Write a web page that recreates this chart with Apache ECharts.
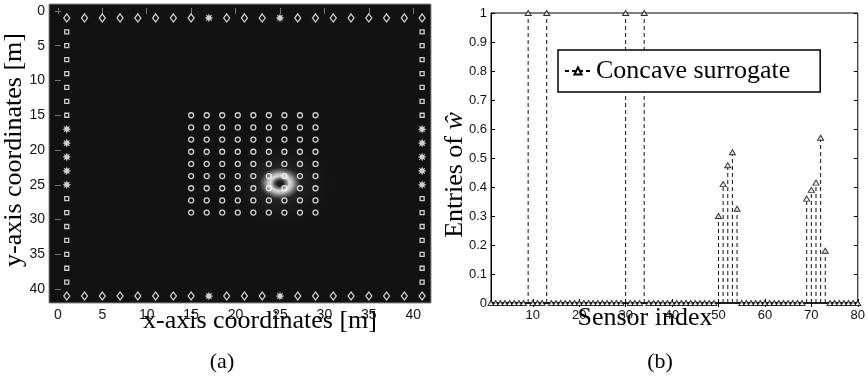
<!DOCTYPE html>
<html>
<head>
<meta charset="utf-8">
<script src="https://cdn.jsdelivr.net/npm/echarts@6/dist/echarts.min.js"></script>
<style>
html, body { margin: 0; padding: 0; background: #fff; }
#main { width: 868px; height: 377px; }
</style>
</head>
<body>
<div id="main"></div>
<script>
// ---- panel (a): sensor layout, metres ----
var edgeRowY = [1, 41];              // top / bottom anchor rows
var edgeColX = [1, 41];              // left / right anchor columns
var diamondX = [1, 3, 5, 7, 9, 11, 13, 15, 19, 21, 23, 27, 29, 31, 33, 35, 37, 39, 41];
var rowStarX = [17, 25];
var squareY = [3, 5, 7, 9, 11, 13, 15, 27, 29, 31, 33, 35, 37, 39];
var colStarY = [17, 19, 21, 23, 25];
var gridPos = [15, 16.75, 18.5, 20.25, 22, 23.75, 25.5, 27.25, 29];
var sourcePos = [[25, 24.8]];
var ticksA = [0, 5, 10, 15, 20, 25, 30, 35, 40];

// ---- panel (b): entries of w per sensor (index 1..80) ----
var weights = [
  0, 0, 0, 0, 0, 0, 0, 0, 1, 0,
  0, 0, 1, 0, 0, 0, 0, 0, 0, 0,
  0, 0, 0, 0, 0, 0, 0, 0, 0, 1,
  0, 0, 0, 1, 0, 0, 0, 0, 0, 0,
  0, 0, 0, 0, 0, 0, 0, 0, 0, 0.30,
  0.41, 0.475, 0.52, 0.325, 0, 0, 0, 0, 0, 0,
  0, 0, 0, 0, 0, 0, 0, 0, 0.36, 0.39,
  0.415, 0.57, 0.18, 0, 0, 0, 0, 0, 0, 0
];
var ticksB = [10, 20, 30, 40, 50, 60, 70, 80];

function combine(xs, ys) {
  var out = [];
  xs.forEach(function (x) { ys.forEach(function (y) { out.push([x, y]); }); });
  return out;
}
var stemData = weights.map(function (w, i) { return [i + 1, w]; });

// 8-point splat used for the '*' markers
function starPath() {
  var p = [];
  for (var k = 0; k < 16; k++) {
    var a = k * Math.PI / 8, r = k % 2 ? 0.5 : 1;
    p.push((50 + 50 * r * Math.cos(a)).toFixed(1) + ',' + (50 + 50 * r * Math.sin(a)).toFixed(1));
  }
  return 'path://M' + p.join('L') + 'Z';
}
var STAR = starPath();

var hollowWhite = { color: 'rgba(0,0,0,0)', borderColor: '#fff', borderWidth: 1.3 };
var tickFont = { fontFamily: 'Liberation Sans', fontSize: 14, color: '#111' };
var serif = 'Liberation Serif';

var myChart = echarts.init(document.getElementById('main'));
myChart.setOption({
  animation: false,
  grid: [
    { left: 49, top: 4, width: 382, height: 299, show: true, backgroundColor: '#121212', borderColor: '#8a8a8a', borderWidth: 1 },
    { left: 491, top: 13, width: 370, height: 290, show: true, borderColor: '#000', borderWidth: 1 }
  ],
  xAxis: [
    { gridIndex: 0, type: 'value', min: -1, max: 42, position: 'bottom',
      axisLine: { show: false }, splitLine: { show: false },
      axisTick: { inside: true, length: 3, customValues: ticksA, lineStyle: { color: '#777' } },
      axisLabel: Object.assign({ customValues: ticksA, margin: 5 }, tickFont) },
    { gridIndex: 0, type: 'value', min: -1, max: 42, position: 'top',
      axisLine: { show: false }, splitLine: { show: false }, axisLabel: { show: false },
      axisTick: { inside: true, length: 3, customValues: ticksA, lineStyle: { color: '#777' } } },
    { gridIndex: 1, type: 'value', min: 1, max: 80, position: 'bottom',
      axisLine: { lineStyle: { color: '#000', width: 1.5 } }, splitLine: { show: false },
      axisTick: { inside: true, length: 4, customValues: ticksB, lineStyle: { color: '#000' } },
      axisLabel: Object.assign({ customValues: ticksB, margin: 6 }, tickFont, { fontSize: 13 }) },
    { gridIndex: 1, type: 'value', min: 1, max: 80, position: 'top',
      axisLine: { show: false }, splitLine: { show: false }, axisLabel: { show: false },
      axisTick: { inside: true, length: 4, customValues: ticksB, lineStyle: { color: '#000' } } }
  ],
  yAxis: [
    { gridIndex: 0, type: 'value', min: -1, max: 42, inverse: true, position: 'left',
      axisLine: { show: false }, splitLine: { show: false },
      axisTick: { inside: true, length: 3, customValues: ticksA, lineStyle: { color: '#777' } },
      axisLabel: Object.assign({ customValues: ticksA, margin: 4 }, tickFont) },
    { gridIndex: 0, type: 'value', min: -1, max: 42, inverse: true, position: 'right',
      axisLine: { show: false }, splitLine: { show: false }, axisLabel: { show: false },
      axisTick: { inside: true, length: 3, customValues: ticksA, lineStyle: { color: '#777' } } },
    { gridIndex: 1, type: 'value', min: 0, max: 1, interval: 0.1, position: 'left',
      axisLine: { lineStyle: { color: '#000' } }, splitLine: { show: false },
      axisTick: { inside: true, length: 4, lineStyle: { color: '#000' } },
      axisLabel: Object.assign({ margin: 4 }, tickFont, { fontSize: 13 }) },
    { gridIndex: 1, type: 'value', min: 0, max: 1, interval: 0.1, position: 'right',
      axisLine: { show: false }, splitLine: { show: false }, axisLabel: { show: false },
      axisTick: { inside: true, length: 4, lineStyle: { color: '#000' } } }
  ],
  legend: {
    data: ['Concave surrogate'],
    left: 558, top: 50,
    padding: [8, 30, 8, 6],
    itemWidth: 26, itemHeight: 9, itemGap: 5,
    backgroundColor: '#fff', borderColor: '#000', borderWidth: 1.5,
    textStyle: { fontFamily: serif, fontSize: 26, color: '#000' }
  },
  graphic: [
    { type: 'text', x: 260, y: 321, style: { text: 'x-axis coordinates [m]', font: '26px "Liberation Serif"', fill: '#000', textAlign: 'center', textVerticalAlign: 'middle' } },
    { type: 'text', x: 14, y: 150, rotation: Math.PI / 2, style: { text: 'y-axis coordinates [m]', font: '26px "Liberation Serif"', fill: '#000', textAlign: 'center', textVerticalAlign: 'middle' } },
    { type: 'text', x: 645, y: 318, style: { text: 'Sensor index', font: '26px "Liberation Serif"', fill: '#000', textAlign: 'center', textVerticalAlign: 'middle' } },
    { type: 'text', x: 455, y: 175, rotation: Math.PI / 2, style: {
        text: 'Entries of {w|ŵ}', font: '26px "Liberation Serif"', fill: '#000', textAlign: 'center', textVerticalAlign: 'middle',
        rich: { w: { fontFamily: serif, fontSize: 26, fontStyle: 'italic' } } } },
    { type: 'text', x: 222, y: 362, style: { text: '(a)', font: '22px "Liberation Serif"', fill: '#000', textAlign: 'center', textVerticalAlign: 'middle' } },
    { type: 'text', x: 660, y: 362, style: { text: '(b)', font: '22px "Liberation Serif"', fill: '#000', textAlign: 'center', textVerticalAlign: 'middle' } }
  ],
  series: [
    // bright source blob in the field image
    { type: 'custom', xAxisIndex: 0, yAxisIndex: 0, data: sourcePos, silent: true, z: 1,
      renderItem: function (params, api) {
        var c = api.coord([api.value(0), api.value(1)]);
        var big = api.size([6.5, 6.5]), small = api.size([2.5, 2.5]);
        return { type: 'group', children: [
          { type: 'circle', x: c[0], y: c[1], scaleY: big[1] / big[0], shape: { cx: 0, cy: 0, r: big[0] },
            style: { fill: new echarts.graphic.RadialGradient(0.5, 0.5, 0.5, [
              { offset: 0, color: 'rgba(80,80,80,0.85)' },
              { offset: 0.4, color: 'rgba(45,45,45,0.55)' },
              { offset: 1, color: 'rgba(18,18,18,0)' }]) } },
          { type: 'circle', x: c[0], y: c[1], scaleY: small[1] / small[0], shape: { cx: 0, cy: 0, r: small[0] },
            style: { fill: new echarts.graphic.RadialGradient(0.5, 0.5, 0.5, [
              { offset: 0, color: '#151515' },
              { offset: 0.15, color: '#222' },
              { offset: 0.3, color: '#808080' },
              { offset: 0.42, color: '#dcdcdc' },
              { offset: 0.56, color: '#b8b8b8' },
              { offset: 0.72, color: '#686868' },
              { offset: 0.87, color: '#353535' },
              { offset: 1, color: 'rgba(18,18,18,0)' }]) } }
        ] };
      } },
    { type: 'scatter', xAxisIndex: 0, yAxisIndex: 0, data: combine(diamondX, edgeRowY),
      symbol: 'diamond', symbolSize: [6, 8], itemStyle: hollowWhite, silent: true, z: 3 },
    { type: 'scatter', xAxisIndex: 0, yAxisIndex: 0, data: combine(rowStarX, edgeRowY),
      symbol: STAR, symbolSize: 9, itemStyle: { color: '#fff' }, silent: true, z: 3 },
    { type: 'scatter', xAxisIndex: 0, yAxisIndex: 0, data: combine(edgeColX, squareY),
      symbol: 'rect', symbolSize: 4, itemStyle: hollowWhite, silent: true, z: 3 },
    { type: 'scatter', xAxisIndex: 0, yAxisIndex: 0, data: combine(edgeColX, colStarY),
      symbol: STAR, symbolSize: 9, itemStyle: { color: '#fff' }, silent: true, z: 3 },
    { type: 'scatter', xAxisIndex: 0, yAxisIndex: 0, data: combine(gridPos, gridPos),
      symbol: 'circle', symbolSize: 5, itemStyle: hollowWhite, silent: true, z: 3 },

    // panel (b): dashed stems
    { type: 'custom', xAxisIndex: 2, yAxisIndex: 2, data: stemData, silent: true, z: 2,
      renderItem: function (params, api) {
        var p0 = api.coord([api.value(0), 0]);
        var p1 = api.coord([api.value(0), api.value(1)]);
        return { type: 'line', shape: { x1: p0[0], y1: p0[1], x2: p1[0], y2: p1[1] },
          style: { stroke: '#111', lineWidth: 1, lineDash: [4, 3] } };
      } },
    { type: 'scatter', xAxisIndex: 2, yAxisIndex: 2, data: stemData,
      symbol: 'triangle', symbolSize: [6, 5], silent: true, z: 4,
      itemStyle: { color: '#fff', borderColor: '#000', borderWidth: 1 } },
    // legend entry only
    { name: 'Concave surrogate', type: 'line', xAxisIndex: 2, yAxisIndex: 2, data: [],
      symbol: 'triangle', symbolSize: [7, 6],
      lineStyle: { color: '#000', width: 1, type: [4, 3] },
      itemStyle: { color: '#fff', borderColor: '#000', borderWidth: 1 } }
  ]
});
window.onresize = myChart.resize;
</script>
</body>
</html>
